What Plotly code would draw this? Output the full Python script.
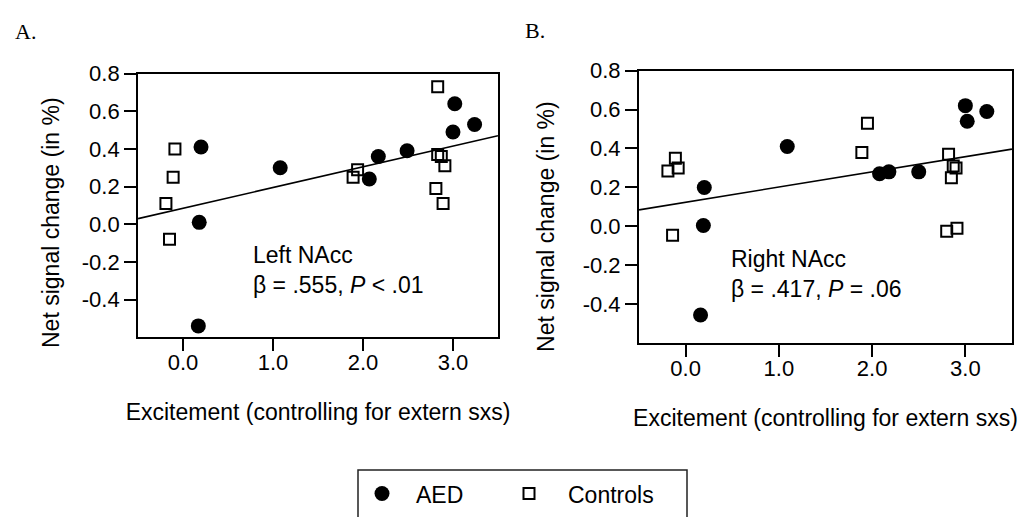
import plotly.graph_objects as go

# ---------------- data ----------------
# Panel A (Left NAcc)
aed_x_left = [0.20, 0.18, 0.17, 1.08, 2.07, 2.17, 2.49, 3.00, 3.02, 3.24]
aed_y_left = [0.41, 0.01, -0.54, 0.30, 0.24, 0.36, 0.39, 0.49, 0.64, 0.53]
ctl_x_left = [-0.19, -0.11, -0.09, -0.15, 1.89, 1.94, 2.83, 2.83, 2.87, 2.91, 2.81, 2.89]
ctl_y_left = [0.11, 0.25, 0.40, -0.08, 0.25, 0.29, 0.73, 0.37, 0.36, 0.31, 0.19, 0.11]
fit_left = [0.085, 0.110]          # intercept, slope

# Panel B (Right NAcc)
aed_x_right = [0.20, 0.19, 0.16, 1.09, 2.08, 2.18, 2.50, 3.00, 3.02, 3.23]
aed_y_right = [0.20, 0.005, -0.455, 0.41, 0.27, 0.28, 0.28, 0.62, 0.54, 0.59]
ctl_x_right = [-0.19, -0.11, -0.08, -0.14, 1.89, 1.95, 2.82, 2.87, 2.90, 2.85, 2.80, 2.91]
ctl_y_right = [0.285, 0.35, 0.30, -0.045, 0.38, 0.53, 0.37, 0.31, 0.30, 0.25, -0.025, -0.01]
fit_right = [0.124, 0.078]

x_range = [-0.5, 3.5]
y_range = [-0.6, 0.8]
x_tickvals = [0, 1, 2, 3]
x_ticktext = ["0.0", "1.0", "2.0", "3.0"]
y_tickvals = [-0.4, -0.2, 0.0, 0.2, 0.4, 0.6, 0.8]
y_ticktext = ["-0.4", "-0.2", "0.0", "0.2", "0.4", "0.6", "0.8"]

x_title = "Excitement (controlling for extern sxs)"
y_title = "Net signal change (in %)"
label_left = "Left NAcc<br>β = .555, <i>P</i> < .01"
label_right = "Right NAcc<br>β = .417, <i>P</i> = .06"
# --------------------------------------

FONT = "Liberation Sans, Arial, sans-serif"
W, H = 1034, 517

fig = go.Figure()


def add_panel(xa, ya, ax, ay, cx, cy, fit, show):
    fx = x_range
    fy = [fit[0] + fit[1] * v for v in fx]
    fig.add_trace(go.Scatter(x=fx, y=fy, mode="lines", xaxis=xa, yaxis=ya,
                             line=dict(color="black", width=1.6),
                             showlegend=False, hoverinfo="skip"))
    fig.add_trace(go.Scatter(x=ax, y=ay, mode="markers", name="AED",
                             xaxis=xa, yaxis=ya, legendgroup="aed", showlegend=show,
                             legend="legend",
                             marker=dict(symbol="circle", size=15, color="black")))
    fig.add_trace(go.Scatter(x=cx, y=cy, mode="markers", name="Controls",
                             xaxis=xa, yaxis=ya, legendgroup="ctl", showlegend=show,
                             legend="legend2",
                             marker=dict(symbol="square-open", size=11, color="black",
                                         line=dict(width=2, color="black"))))


add_panel("x", "y", aed_x_left, aed_y_left, ctl_x_left, ctl_y_left, fit_left, True)
add_panel("x2", "y2", aed_x_right, aed_y_right, ctl_x_right, ctl_y_right, fit_right, False)

axis_common = dict(showline=True, mirror=True, linewidth=2, linecolor="black",
                   ticks="outside", ticklen=12, tickwidth=1.5, tickcolor="black",
                   showgrid=False, zeroline=False,
                   tickfont=dict(family=FONT, size=22, color="black"))

xa = dict(axis_common, range=x_range, tickvals=x_tickvals, ticktext=x_ticktext,
          ticklabelstandoff=-8,
          title=dict(text=x_title, font=dict(family=FONT, size=23, color="black"), standoff=30))
ya = dict(axis_common, range=y_range, tickvals=y_tickvals, ticktext=y_ticktext)

legend_common = dict(orientation="h", y=1 - 471 / H, xanchor="left", yanchor="top",
                     borderwidth=0, bgcolor="rgba(0,0,0,0)",
                     font=dict(family=FONT, size=23, color="black"), itemclick=False)

fig.update_layout(
    width=W, height=H,
    margin=dict(l=0, r=0, t=0, b=0),
    paper_bgcolor="white", plot_bgcolor="white",
    xaxis=dict(xa, domain=[0.1335, 0.4816], anchor="y"),
    yaxis=dict(ya, domain=[0.356, 0.878], anchor="x"),
    xaxis2=dict(xa, domain=[0.618, 0.9787], anchor="y2"),
    yaxis2=dict(ya, domain=[0.344, 0.884], anchor="x2"),
    legend=dict(legend_common, x=348 / W, itemwidth=58),
    legend2=dict(legend_common, x=490 / W, itemwidth=68),
    showlegend=True,
)

# legend frame (runs off the bottom edge, as in the reference)
fig.add_shape(type="rect", xref="paper", yref="paper",
              x0=358 / W, x1=687 / W, y0=-0.1, y1=1 - 469 / H,
              line=dict(color="#222", width=1.5), fillcolor="rgba(0,0,0,0)", layer="above")

# y-axis titles
fig.add_annotation(x=51 / W, y=1 - 216 / H, xref="paper", yref="paper", text=y_title,
                   textangle=-90, showarrow=False, xanchor="center", yanchor="middle",
                   font=dict(family=FONT, size=23, color="black"))
fig.add_annotation(x=546 / W, y=1 - 220 / H, xref="paper", yref="paper", text=y_title,
                   textangle=-90, showarrow=False, xanchor="center", yanchor="middle",
                   font=dict(family=FONT, size=23, color="black"))

fig.add_annotation(x=0.75, y=-0.245, xref="x", yref="y", text=label_left,
                   showarrow=False, xanchor="left", yanchor="middle", align="left",
                   font=dict(family=FONT, size=23, color="black"))
fig.add_annotation(x=0.46, y=-0.243, xref="x2", yref="y2", text=label_right,
                   showarrow=False, xanchor="left", yanchor="middle", align="left",
                   font=dict(family=FONT, size=23, color="black"))
fig.add_annotation(x=13 / W, y=1 - 20 / H, xref="paper", yref="paper", text="A.",
                   showarrow=False, xanchor="left", yanchor="middle",
                   font=dict(family="Liberation Serif, Times New Roman, serif", size=22, color="black"))
fig.add_annotation(x=523 / W, y=1 - 19 / H, xref="paper", yref="paper", text="B.",
                   showarrow=False, xanchor="left", yanchor="middle",
                   font=dict(family="Liberation Serif, Times New Roman, serif", size=22, color="black"))

fig.write_html("out.html")
